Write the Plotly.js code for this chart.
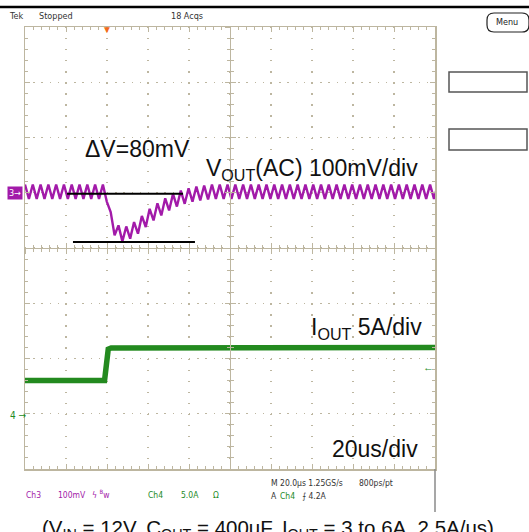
<!DOCTYPE html>
<html>
<head>
<meta charset="utf-8">
<script src="https://cdn.plot.ly/plotly-3.0.1.min.js"></script>
<style>html,body{margin:0;padding:0;background:#fff;}#chart{width:529px;height:532px;}</style>
</head>
<body>
<div id="chart"></div>
<script>
// ---------- data ----------
// Ch3: Vout (AC coupled), mV, vertices of the ripple waveform vs time (us)
const voutTime = [-40.0,-38.1,-36.2,-34.3,-32.4,-30.5,-28.6,-26.7,-24.8,-22.9,-21.0,-19.1,-17.2,-15.3,-13.4,-11.5,-9.6,-7.7,-5.8,-3.9,
  -2.0,-0.1,1.8,3.7,5.6,7.5,9.4,11.3,13.2,15.1,17.0,18.9,20.8,22.7,24.6,26.5,28.4,30.3,32.2,34.1,
  36.0,37.9,39.8,41.7,43.6,45.5,47.4,49.3,51.2,53.1,55.0,56.9,58.8,60.7,62.6,64.5,66.4,68.3,70.2,72.1,
  74.0,75.9,77.8,79.7,81.6,83.5,85.4,87.3,89.2,91.1,93.0,94.9,96.8,98.7,100.6,102.5,104.4,106.3,108.2,110.1,
  112.0,113.9,115.8,117.7,119.6,121.5,123.4,125.3,127.2,129.1,131.0,132.9,134.8,136.7,138.6,140.5,142.4,144.3,146.2,148.1,
  150.0,151.9,153.8,155.7,157.6,159.5,161.4];
const voutMv = [15,-11,15,-11,15,-11,15,-11,15,-11,15,-11,15,-11,15,-11,15,-11,15,-11,
  15,-16,-35,-77,-59,-88,-61,-83,-53,-74,-42,-62,-29,-50,-19,-41,-10,-32,-2,-25,
  4,-20,8,-16,11,-14,13,-12,15,-11,15,-11,15,-11,15,-11,15,-11,15,-11,
  15,-11,15,-11,15,-11,15,-11,15,-11,15,-11,15,-11,15,-11,15,-11,15,-11,
  15,-11,15,-11,15,-11,15,-11,15,-11,15,-11,15,-11,15,-11,15,-11,15,-11,
  15,-11,15,-11,15,-11,15];
// Ch4: Iout, A
const ioutTime = [-40, -1.2, 0.6, 2, 160];
const ioutAmp  = [3.0, 3.0, 5.85, 5.95, 6.0];
// Delta-V cursor lines (us, mV)
const dvUpperTime = [-19.5, 37.1];
const dvUpperMv   = [-2, -2];
const dvLowerTime = [-16.6, 42.9];
const dvLowerMv   = [-89, -89];
// trigger
const trigTime = 0;
const trigLevelA = 4.2;
// scope scales
const timeRange = [-40, 160];   // 20 us/div, 10 div
const voutRange = [-500, 300];  // 100 mV/div, 8 div
const ioutRange = [-5, 35];     // 5 A/div, 8 div

// ---------- styling ----------
const PURPLE = '#a21aa9';
const GREEN = '#238a1f';
const TAN = '#bdb6a0';
const NARROW = '"Liberation Sans Narrow","DejaVu Sans Condensed",Arial,sans-serif';
const SANS = '"Liberation Sans",Arial,sans-serif';
const X = px => (px - 25) / 410;
const Y = py => (469 - py) / 442;

const traces = [
  {x: voutTime, y: voutMv, type: 'scatter', mode: 'lines', xaxis: 'x', yaxis: 'y',
   line: {color: PURPLE, width: 2.4}, hoverinfo: 'skip'},
  {x: ioutTime, y: ioutAmp, type: 'scatter', mode: 'lines', xaxis: 'x', yaxis: 'y2',
   line: {color: GREEN, width: 5.5}, hoverinfo: 'skip'},
  {x: dvUpperTime, y: dvUpperMv, type: 'scatter', mode: 'lines', xaxis: 'x', yaxis: 'y',
   line: {color: '#000', width: 2}, hoverinfo: 'skip'},
  {x: dvLowerTime, y: dvLowerMv, type: 'scatter', mode: 'lines', xaxis: 'x', yaxis: 'y',
   line: {color: '#000', width: 2}, hoverinfo: 'skip'},
  {x: [], y: [], type: 'scatter', xaxis: 'x2', yaxis: 'y3'},
  {x: [], y: [], type: 'scatter', xaxis: 'x3', yaxis: 'y4'}
];

function centerX(dir) {
  return {overlaying: 'x', anchor: 'free', position: 0.5, range: timeRange,
    showline: true, linecolor: TAN, linewidth: 1, ticks: dir, ticklen: 5, tickcolor: TAN, tickwidth: 1,
    tick0: 0, dtick: 20, minor: {dtick: 4, ticks: dir, ticklen: 3, tickcolor: TAN, showgrid: false},
    showgrid: false, zeroline: false, showticklabels: false, fixedrange: true};
}
function centerY(dir) {
  return {overlaying: 'y', anchor: 'free', position: 0.5, range: voutRange,
    showline: true, linecolor: TAN, linewidth: 1, ticks: dir, ticklen: 5, tickcolor: TAN, tickwidth: 1,
    tick0: 0, dtick: 100, minor: {dtick: 20, ticks: dir, ticklen: 3, tickcolor: TAN, showgrid: false},
    showgrid: false, zeroline: false, showticklabels: false, fixedrange: true};
}

const ann = (text, px, py, o = {}) => Object.assign({text, x: X(px), y: Y(py), xref: 'paper', yref: 'paper',
  xanchor: 'left', yanchor: 'middle', showarrow: false,
  font: {family: NARROW, size: 9, color: '#333'}}, o);
const small = (c) => ({family: NARROW, size: 8.5, color: c});

const annotations = [
  ann('Tek', 7, 16),
  ann('Stopped', 37, 16),
  ann('18 Acqs', 169, 16),
  ann('Menu', 507, 22, {xanchor: 'center', font: {family: NARROW, size: 9, color: '#222'}}),
  ann('ΔV=80mV', 83, 149, {font: {family: SANS, size: 23, color: '#111'}}),
  ann('V<sub>OUT</sub>(AC) 100mV/div', 204, 170, {font: {family: SANS, size: 23, color: '#111'}}),
  ann('I<sub>OUT</sub> 5A/div', 309, 328, {font: {family: SANS, size: 23, color: '#111'}}),
  ann('20us/div', 330, 449, {font: {family: SANS, size: 23, color: '#111'}}),
  ann('(V<sub>IN</sub> = 12V, C<sub>OUT</sub> = 400uF, I<sub>OUT</sub> = 3 to 6A, 2.5A/us)', 268, 529,
      {xanchor: 'center', font: {family: SANS, size: 20.5, color: '#111'}}),
  ann('Ch3', 24, 495, {font: small(PURPLE)}),
  ann('100mV', 56, 495, {font: small(PURPLE)}),
  ann('ϟ <sup>B</sup>w', 90, 494, {font: small(PURPLE)}),
  ann('Ch4', 146, 495, {font: small(GREEN)}),
  ann('5.0A', 179, 495, {font: small(GREEN)}),
  ann('Ω', 211, 495, {font: small(GREEN)}),
  ann('M 20.0µs 1.25GS/s', 269, 483, {font: small('#333')}),
  ann('800ps/pt', 357, 483, {font: small('#333')}),
  ann('A', 269, 496, {font: small('#333')}),
  ann('Ch4', 278, 496, {font: small(GREEN)}),
  ann('⨍ 4.2A', 300, 496, {font: small('#333')}),
  ann('3→', 15, 193, {xanchor: 'center', bgcolor: PURPLE, borderpad: 1,
      font: {family: NARROW, size: 9, color: '#fff'}}),
  ann('4 →', 18, 415, {xanchor: 'center', font: {family: NARROW, size: 10, color: GREEN}}),
  {text: '▼', x: trigTime, xref: 'x', y: Y(29), yref: 'paper', xanchor: 'center', yanchor: 'middle',
   showarrow: false, font: {size: 10, color: '#f26a1b'}},
  {text: '←', x: 157, xref: 'x', y: trigLevelA, yref: 'y2', xanchor: 'center', yanchor: 'middle',
   showarrow: false, font: {family: SANS, size: 11, color: GREEN}}
];

// decorative UI pieces of the scope screen
const rr = (x0, y0, x1, y1, r) => {
  const a = X(x0), b = X(x1), c = Y(y0), d = Y(y1), rx = r / 410, ry = r / 442;
  return `M${a + rx},${c} L${b - rx},${c} Q${b},${c} ${b},${c - ry} L${b},${d + ry} Q${b},${d} ${b - rx},${d} L${a + rx},${d} Q${a},${d} ${a},${d + ry} L${a},${c - ry} Q${a},${c} ${a + rx},${c} Z`;
};
const shapes = [
  {type: 'line', xref: 'paper', yref: 'paper', x0: X(0), x1: X(529), y0: Y(7), y1: Y(7), line: {color: '#000', width: 2.5}},
  {type: 'line', xref: 'paper', yref: 'paper', x0: X(435), x1: X(435), y0: Y(469), y1: Y(512), line: {color: '#8a8a8a', width: 1.5}},
  {type: 'path', xref: 'paper', yref: 'paper', path: rr(487, 13, 529, 32, 7), line: {color: '#222', width: 1.2}},
  {type: 'rect', xref: 'paper', yref: 'paper', x0: X(449), x1: X(527), y0: Y(72), y1: Y(92), line: {color: '#555', width: 1.5}},
  {type: 'rect', xref: 'paper', yref: 'paper', x0: X(449), x1: X(527), y0: Y(129), y1: Y(150), line: {color: '#555', width: 1.5}}
];

const layout = {
  width: 529, height: 532,
  margin: {l: 25, r: 94, t: 27, b: 63, pad: 0},
  paper_bgcolor: '#fff', plot_bgcolor: '#fff',
  showlegend: false,
  xaxis: {domain: [0, 1], range: timeRange, tick0: 0, dtick: 20, showgrid: true, gridcolor: TAN, gridwidth: 1.3,
    griddash: '1.3px,9.75px', zeroline: false, showticklabels: false,
    showline: true, linecolor: TAN, linewidth: 1.5, mirror: 'ticks', ticks: 'inside', ticklen: 5, tickcolor: TAN,
    minor: {dtick: 4, ticks: 'inside', ticklen: 3, tickcolor: TAN, showgrid: false}, fixedrange: true},
  yaxis: {domain: [0, 1], range: voutRange, tick0: 0, dtick: 100, showgrid: true, gridcolor: TAN, gridwidth: 1.3,
    griddash: '1.3px,6.9px', zeroline: false, showticklabels: false,
    showline: true, linecolor: TAN, linewidth: 1.5, mirror: 'ticks', ticks: 'inside', ticklen: 5, tickcolor: TAN,
    minor: {dtick: 20, ticks: 'inside', ticklen: 3, tickcolor: TAN, showgrid: false}, fixedrange: true},
  yaxis2: {overlaying: 'y', range: ioutRange, showgrid: false, zeroline: false, showticklabels: false,
    showline: false, ticks: '', fixedrange: true},
  xaxis2: centerX('outside'),
  xaxis3: centerX('inside'),
  yaxis3: centerY('outside'),
  yaxis4: centerY('inside'),
  annotations, shapes
};

Plotly.newPlot('chart', traces, layout, {displayModeBar: false, staticPlot: true});
</script>
</body>
</html>
